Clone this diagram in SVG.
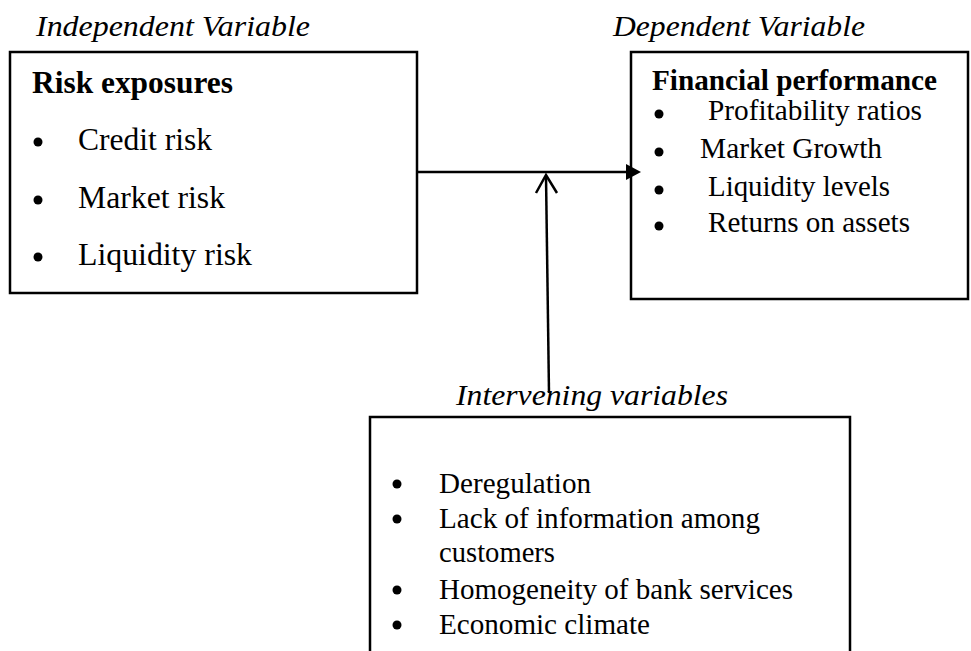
<svg xmlns="http://www.w3.org/2000/svg" width="971" height="651" viewBox="0 0 971 651">
<style>
text{font-family:"Liberation Serif","Times New Roman",serif;fill:#000}
.lab{font-style:italic;font-size:29.5px}
.hd{font-weight:bold}
.l{font-size:30.5px}
.r{font-size:29px}
.b{font-size:29px}
.box{fill:#fff;stroke:#000;stroke-width:2.5}
.dot{fill:#000}
.con{stroke:#000;stroke-width:2.5;fill:none}
</style>
<rect width="971" height="651" fill="#fff"/>
<g id="independent">
<text class="lab" x="36" y="36" textLength="274" lengthAdjust="spacingAndGlyphs">Independent Variable</text>
<rect class="box" x="10" y="52" width="407" height="241"/>
<text class="l hd" x="32" y="93" textLength="201" lengthAdjust="spacingAndGlyphs">Risk exposures</text>
<circle class="dot" cx="38" cy="142" r="4.5"/>
<text class="l" x="78" y="150" textLength="134" lengthAdjust="spacingAndGlyphs">Credit risk</text>
<circle class="dot" cx="38" cy="200" r="4.5"/>
<text class="l" x="78" y="208" textLength="147" lengthAdjust="spacingAndGlyphs">Market risk</text>
<circle class="dot" cx="38" cy="257" r="4.5"/>
<text class="l" x="78" y="265" textLength="174" lengthAdjust="spacingAndGlyphs">Liquidity risk</text>
</g>
<g id="dependent">
<text class="lab" x="613" y="36" textLength="252" lengthAdjust="spacingAndGlyphs">Dependent Variable</text>
<rect class="box" x="631" y="52" width="337" height="247"/>
<text class="r hd" x="652" y="90" textLength="285" lengthAdjust="spacingAndGlyphs">Financial performance</text>
<circle class="dot" cx="659" cy="114" r="4.5"/>
<text class="r" x="708" y="120" textLength="214" lengthAdjust="spacingAndGlyphs">Profitability ratios</text>
<circle class="dot" cx="659" cy="152" r="4.5"/>
<text class="r" x="700" y="158" textLength="182" lengthAdjust="spacingAndGlyphs">Market Growth</text>
<circle class="dot" cx="659" cy="190" r="4.5"/>
<text class="r" x="708" y="196" textLength="182" lengthAdjust="spacingAndGlyphs">Liquidity levels</text>
<circle class="dot" cx="659" cy="226" r="4.5"/>
<text class="r" x="708" y="232" textLength="202" lengthAdjust="spacingAndGlyphs">Returns on assets</text>
</g>
<g id="intervening">
<rect class="box" x="370" y="417" width="480" height="250"/>
<circle class="dot" cx="397" cy="484" r="4.5"/>
<text class="b" x="439" y="493" textLength="152" lengthAdjust="spacingAndGlyphs">Deregulation</text>
<circle class="dot" cx="397" cy="519" r="4.5"/>
<text class="b" x="439" y="528" textLength="321" lengthAdjust="spacingAndGlyphs">Lack of information among</text>
<text class="b" x="439" y="562" textLength="116" lengthAdjust="spacingAndGlyphs">customers</text>
<circle class="dot" cx="397" cy="590" r="4.5"/>
<text class="b" x="439" y="599" textLength="354" lengthAdjust="spacingAndGlyphs">Homogeneity of bank services</text>
<circle class="dot" cx="397" cy="625" r="4.5"/>
<text class="b" x="439" y="634" textLength="211" lengthAdjust="spacingAndGlyphs">Economic climate</text>
</g>
<g id="connectors">
<line class="con" x1="417" y1="172" x2="628" y2="172"/>
<polygon points="626,164 641,172 626,180" fill="#000"/>
<line class="con" x1="549" y1="393" x2="546" y2="176"/>
<polyline class="con" stroke-width="2" points="536,193 546,175 557,193"/>
</g>
<g id="intervening-label">
<text class="lab" x="456" y="405" textLength="272" lengthAdjust="spacingAndGlyphs">Intervening variables</text>
</g>
</svg>
